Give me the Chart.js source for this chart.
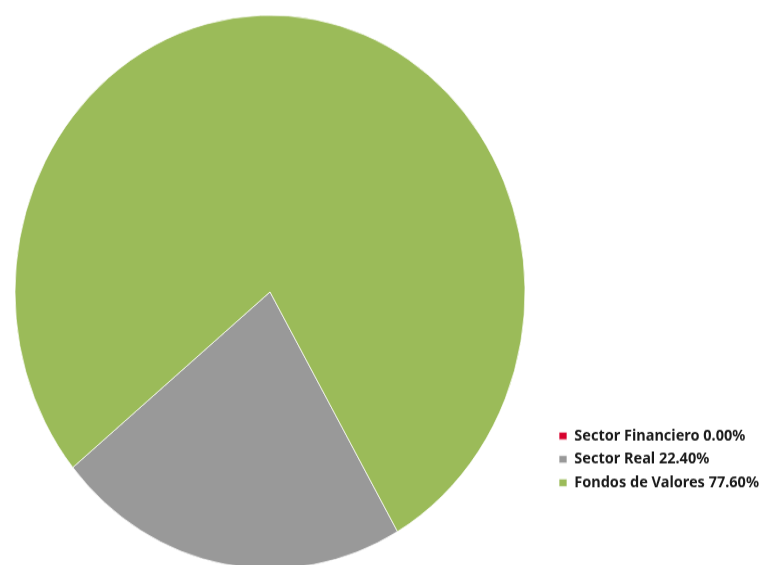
<!DOCTYPE html>
<html>
<head>
<meta charset="utf-8">
<script src="https://cdn.jsdelivr.net/npm/chart.js@4"></script>
<style>
  html, body { margin: 0; padding: 0; background: #fff; overflow: hidden; }
</style>
</head>
<body>
<!-- the reference is stretched a little vertically, so the canvas is too -->
<canvas id="pieChart" width="766" height="540" style="display:block;width:766px;height:586px;"></canvas>
<script>
// ---- data ----
const categories = ['Sector Financiero', 'Sector Real', 'Fondos de Valores'];
const shares = [0.00, 22.40, 77.60];
const sliceColors = ['#D7002D', '#999999', '#9BBB59'];

const labels = categories.map((c, i) => c + ' ' + shares[i].toFixed(2) + '%');

// move the legend to the lower right, beside the pie
const legendSpot = {
    id: 'legendSpot',
    afterLayout(chart) {
        const lg = chart.legend;
        const w = lg.right - lg.left;
        const h = lg.bottom - lg.top;
        lg.left = 551.9;
        lg.right = lg.left + w;
        lg.top = 387.3;
        lg.bottom = lg.top + h;
    }
};

const ctx = document.getElementById('pieChart').getContext('2d');
new Chart(ctx, {
    type: 'pie',
    data: {
        labels: labels,
        datasets: [{
            data: shares,
            backgroundColor: sliceColors,
            borderColor: 'rgba(255,255,255,0.7)',
            borderWidth: 1,
            radius: 255
        }]
    },
    options: {
        responsive: false,
        devicePixelRatio: 1,
        animation: false,
        rotation: 150,
        layout: {
            padding: { left: 0, right: 226, top: 0, bottom: 2 }
        },
        plugins: {
            tooltip: { enabled: false },
            legend: {
                position: 'chartArea',
                align: 'start',
                labels: {
                    boxWidth: 8,
                    boxHeight: 7,
                    padding: 7.1,
                    color: '#1a1a1a',
                    font: { family: 'Noto Sans', size: 14.5, weight: 'bold' }
                }
            }
        }
    },
    plugins: [legendSpot]
});
</script>
</body>
</html>
